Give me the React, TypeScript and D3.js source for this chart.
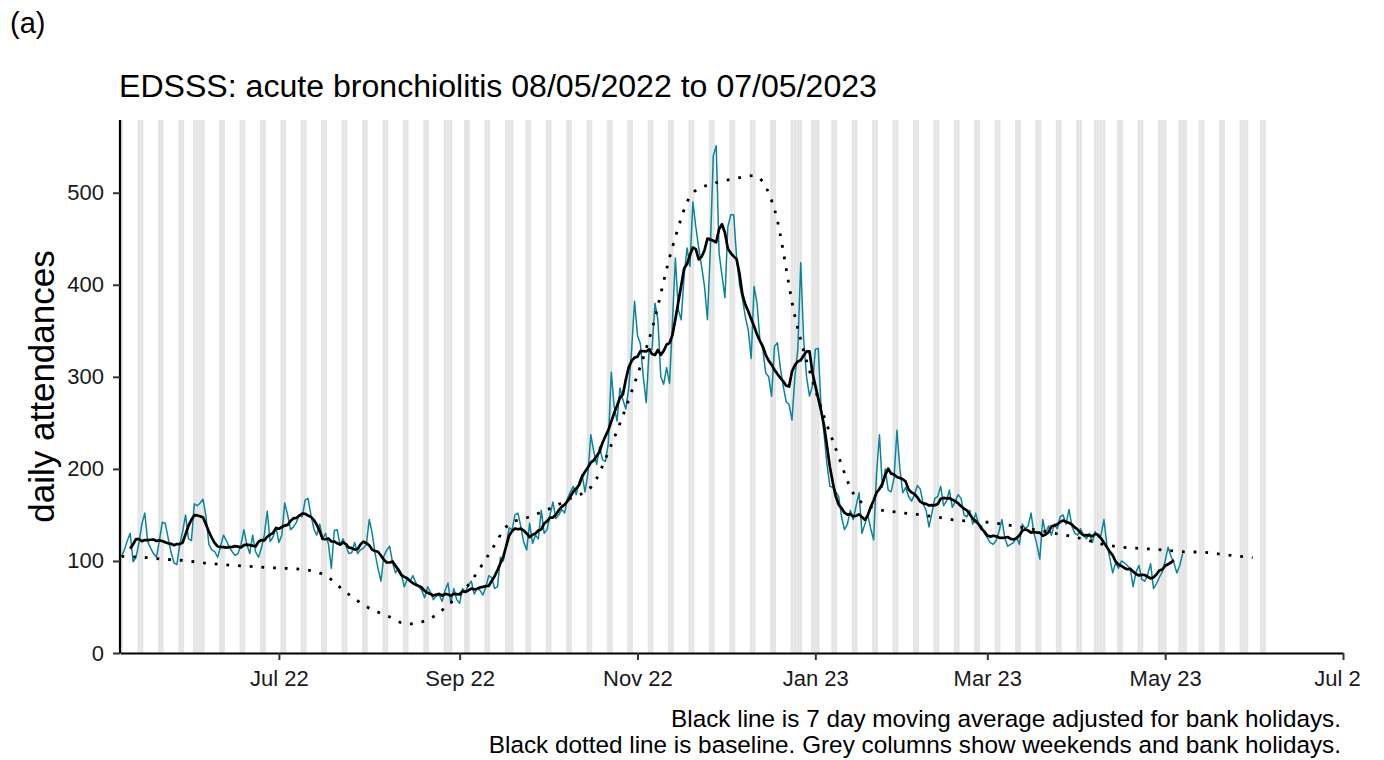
import { useEffect, useRef } from "react";
import * as d3 from "d3";

// first day of data: Sunday 08/05/2022
const startDay = new Date(Date.UTC(2022, 4, 8));

// daily attendances, one row per week (Sun..Sat)
const daily: number[] = [
  105, 112, 122, 130, 99, 104, 120,
  140, 152, 121, 114, 108, 104, 122,
  142, 141, 125, 110, 98, 96, 118,
  132, 150, 124, 122, 162, 160, 163,
  167, 148, 118, 112, 110, 104, 116,
  128, 122, 115, 110, 106, 108, 118,
  134, 118, 108, 128, 110, 104, 114,
  128, 154, 121, 126, 137, 120, 128,
  163, 150, 134, 137, 142, 150, 148,
  166, 168, 150, 135, 128, 140, 124,
  130, 118, 92, 133, 134, 117, 124,
  116, 108, 109, 120, 108, 112, 114,
  118, 145, 130, 108, 92, 78, 105,
  112, 116, 98, 87, 92, 86, 72,
  80, 78, 84, 76, 72, 68, 60,
  72, 66, 58, 62, 63, 56, 68,
  76, 54, 70, 58, 54, 70, 66,
  74, 78, 64, 70, 68, 63, 72,
  84, 82, 70, 72, 104, 100, 118,
  136, 134, 150, 152, 137, 120, 112,
  141, 119, 128, 124, 155, 130, 134,
  150, 164, 146, 150, 156, 152, 168,
  175, 181, 172, 186, 194, 175, 195,
  237, 219, 205, 224, 210, 208, 228,
  305, 268, 252, 288, 275, 265, 288,
  330, 382, 345, 336, 300, 272, 330,
  330, 380, 362, 300, 292, 310, 293,
  360, 429, 373, 362, 410, 440, 420,
  490, 463, 440, 420, 398, 362, 440,
  540, 551, 434, 410, 386, 463, 476,
  476, 430, 400, 385, 365, 351, 320,
  398, 380, 340, 330, 304, 300, 279,
  333, 337, 310, 290, 273, 270, 253,
  300, 330, 424, 340, 300, 279, 290,
  330, 331, 265, 238, 205, 181, 180,
  175, 170, 148, 134, 140, 155, 145,
  160, 174, 130, 140, 150, 135, 123,
  195, 237, 180, 200, 177, 175, 190,
  242, 200, 174, 180, 170, 165, 172,
  182, 178, 162, 155, 137, 152, 168,
  170, 181, 160, 165, 177, 158, 165,
  172, 168, 150, 148, 155, 140, 152,
  140, 138, 130, 125, 120, 118, 122,
  132, 145, 125, 116, 118, 120, 126,
  118, 140, 135, 138, 152, 130, 118,
  102, 145, 130, 138, 128, 140, 135,
  148, 150, 140, 156, 138, 130, 128,
  135, 128, 124, 130, 120, 132, 126,
  128, 145, 118, 103, 87, 98, 92,
  100, 98, 95, 92, 72, 88, 95,
  80, 78, 85, 97, 70, 75, 82,
  88, 100, 115, 105, 98, 87, 95,
  108,
];

// baseline, one value per week from 08/05/2022
const baselineWeekly: number[] = [
  105, 104, 102, 100.5, 98, 96, 94.5, 93, 92, 90.5,
  84, 66, 50.5, 40.5, 31.5, 36, 52, 74, 107, 140,
  148, 157, 168, 180, 226, 284, 352, 441, 500, 510,
  515, 518.5, 482, 366, 286, 222, 169, 156.5, 153, 150.5,
  147.5, 144, 143, 140.5, 137, 133, 129, 124.5, 118.5, 115,
  113.5, 112, 110, 109.5, 107, 104.5,
];
const baselineEnd = { day: "2023-05-31", value: 103.5 };

const bankHolidays = [
  "2022-06-02", "2022-06-03", "2022-08-29", "2022-09-19",
  "2022-12-26", "2022-12-27", "2023-01-02", "2023-04-07",
  "2023-04-10", "2023-05-01", "2023-05-08", "2023-05-29",
];
const shadeEnd = "2023-06-05";

const yTicks = [0, 100, 200, 300, 400, 500];
const xTicks = ["2022-07-01", "2022-09-01", "2022-11-01", "2023-01-01", "2023-03-01", "2023-05-01", "2023-07-01"];

const titleText = "EDSSS: acute bronchiolitis 08/05/2022 to 07/05/2023";
const captionLines = [
  "Black line is 7 day moving average adjusted for bank holidays.",
  "Black dotted line is baseline. Grey columns show weekends and bank holidays.",
];

const FONT = "'Liberation Sans', Arial, Helvetica, sans-serif";

export default function App() {
  const svgRef = useRef<SVGSVGElement | null>(null);

  useEffect(() => {
    if (!svgRef.current) return;
    const svg = d3.select(svgRef.current);
    svg.selectAll("*").remove();

    const left = 120, right = 1343, top = 120, bottom = 653;
    const parse = d3.utcParse("%Y-%m-%d");
    const fmt = d3.utcFormat("%Y-%m-%d");

    const x = d3
      .scaleUtc()
      .domain([new Date(Date.UTC(2022, 4, 7, 12)), new Date(Date.UTC(2023, 6, 1))])
      .range([left, right]);
    const y = d3.scaleLinear().domain([0, 579]).range([bottom, top]);

    const dayW = x(d3.utcDay.offset(startDay, 1)) - x(startDay);

    const days = daily.map((v, i) => ({ date: d3.utcDay.offset(startDay, i), value: v }));
    const ma = days.slice(3, days.length - 3).map((d, j) => ({
      date: d.date,
      value: d3.mean(daily.slice(j, j + 7)) as number,
    }));
    const baseline = baselineWeekly.map((v, i) => ({ date: d3.utcDay.offset(startDay, 7 * i), value: v }));
    baseline.push({ date: parse(baselineEnd.day) as Date, value: baselineEnd.value });

    // clip for the device edge
    svg
      .append("defs")
      .append("clipPath")
      .attr("id", "dev")
      .append("rect")
      .attr("x", 0)
      .attr("y", 0)
      .attr("width", 1361)
      .attr("height", 760);

    const root = svg.append("g").attr("clip-path", "url(#dev)");

    // weekend / bank holiday columns
    const holidaySet = new Set(bankHolidays);
    const shadeDays = d3
      .utcDay.range(startDay, parse(shadeEnd) as Date)
      .filter((d) => d.getUTCDay() === 0 || d.getUTCDay() === 6 || holidaySet.has(fmt(d)));
    root
      .append("g")
      .selectAll("rect")
      .data(shadeDays)
      .enter()
      .append("rect")
      .attr("x", (d) => x(d) - dayW / 2)
      .attr("width", dayW)
      .attr("y", top)
      .attr("height", bottom - top)
      .attr("fill", "#e5e5e5");

    // daily counts
    const line = d3
      .line<{ date: Date; value: number }>()
      .x((d) => x(d.date))
      .y((d) => y(d.value));

    root
      .append("path")
      .datum(days)
      .attr("d", line)
      .attr("fill", "none")
      .attr("stroke", "#0a849b")
      .attr("stroke-width", 1.5)
      .attr("stroke-linejoin", "round");

    // moving average
    root
      .append("path")
      .datum(ma)
      .attr("d", line)
      .attr("fill", "none")
      .attr("stroke", "#000")
      .attr("stroke-width", 2.7)
      .attr("stroke-linejoin", "round");

    // baseline
    root
      .append("path")
      .datum(baseline)
      .attr("d", line.curve(d3.curveMonotoneX))
      .attr("fill", "none")
      .attr("stroke", "#000")
      .attr("stroke-width", 2.8)
      .attr("stroke-dasharray", "2.8,8.9");

    // axes
    const yAxis = d3.axisLeft(y).tickValues(yTicks).tickSize(7).tickSizeOuter(0).tickPadding(9);
    const gy = root.append("g").attr("transform", `translate(${left},0)`).call(yAxis);
    gy.select(".domain").attr("stroke", "#000").attr("stroke-width", 2.2).attr("d", `M0,${bottom}V${top}`);
    gy.selectAll(".tick line").attr("stroke", "#333").attr("stroke-width", 2);
    gy.selectAll(".tick text").attr("fill", "#1a1a1a").style("font-size", "22px").style("font-family", FONT);

    const xAxis = d3
      .axisBottom(x)
      .tickValues(xTicks.map((s) => parse(s) as Date))
      .tickFormat((d) => d3.utcFormat("%b %y")(d as Date))
      .tickSize(7)
      .tickSizeOuter(0)
      .tickPadding(10);
    const gx = root.append("g").attr("transform", `translate(0,${bottom})`).call(xAxis);
    gx.select(".domain").attr("stroke", "#000").attr("stroke-width", 2.2);
    gx.selectAll(".tick line").attr("stroke", "#333").attr("stroke-width", 2);
    gx.selectAll(".tick text").attr("fill", "#1a1a1a").style("font-size", "22px").style("font-family", FONT);

    // texts
    root
      .append("text")
      .attr("x", 10)
      .attr("y", 33)
      .style("font-family", FONT)
      .style("font-size", "29px")
      .text("(a)");

    root
      .append("text")
      .attr("x", 119)
      .attr("y", 97)
      .style("font-family", FONT)
      .style("font-size", "32.1px")
      .text(titleText);

    root
      .append("text")
      .attr("transform", `translate(54,${(top + bottom) / 2}) rotate(-90)`)
      .attr("text-anchor", "middle")
      .style("font-family", FONT)
      .style("font-size", "35px")
      .text("daily attendances");

    root
      .append("g")
      .selectAll("text")
      .data(captionLines)
      .enter()
      .append("text")
      .attr("x", 1341)
      .attr("y", (_, i) => 727 + i * 26)
      .attr("text-anchor", "end")
      .style("font-family", FONT)
      .style("font-size", "24.3px")
      .text((d) => d);
  }, []);

  return (
    <svg
      ref={svgRef}
      width={1384}
      height={760}
      style={{ position: "absolute", left: 0, top: 0, background: "#fff" }}
    ></svg>
  );
}
